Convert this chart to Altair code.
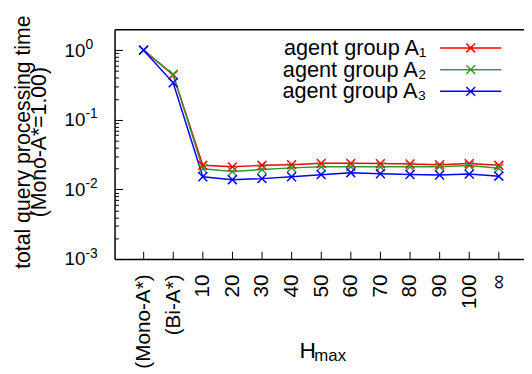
import altair as alt
import pandas as pd

x_labels = ["(Mono-A*)", "(Bi-A*)", "10", "20", "30", "40", "50", "60", "70", "80", "90", "100", "∞"]
series_names = ["agent group A₁", "agent group A₂", "agent group A₃"]
a1 = [1.0, 0.44, 0.0222, 0.0211, 0.0222, 0.0227, 0.0237, 0.0237, 0.0235, 0.0232, 0.0227, 0.0235, 0.0222]
a2 = [1.0, 0.45, 0.0198, 0.0181, 0.0193, 0.0204, 0.0211, 0.0211, 0.0211, 0.0211, 0.0211, 0.0220, 0.0201]
a3 = [1.0, 0.34, 0.0152, 0.0138, 0.0143, 0.0152, 0.0163, 0.0174, 0.0168, 0.0164, 0.0161, 0.0166, 0.0155]
colors = ["#ff0000", "#339933", "#0000ff"]
y_major = [0.001, 0.01, 0.1, 1]
y_base_labels = ["10", "10", "10", "10"]
y_exp_labels = ["-3", "-2", "-1", "0"]
y_minor = [0.002, 0.003, 0.004, 0.005, 0.006, 0.007, 0.008, 0.009,
           0.02, 0.03, 0.04, 0.05, 0.06, 0.07, 0.08, 0.09,
           0.2, 0.3, 0.4, 0.5, 0.6, 0.7, 0.8, 0.9]
x_ticks = list(range(len(x_labels)))
y_title = ["total query processing time", "(Mono-A*=1.00)"]
x_title_main = "H"
x_title_sub = "max"

rows = []
for name, vals in zip(series_names, [a1, a2, a3]):
    for i, v in enumerate(vals):
        rows.append({"idx": i, "series": name, "value": v})
df = pd.DataFrame(rows)

FONT = "Liberation Sans"
cross = "M-1,-1L1,1M-1,1L1,-1"
legend_sym = "M-3.1,0L3.1,0M-0.45,-0.45L0.45,0.45M-0.45,0.45L0.45,-0.45"

x_scale = alt.Scale(domain=[-0.98, 12.85], nice=False, zero=False)
y_scale = alt.Scale(type="log", domain=[0.001, 2], nice=False)


def arr_expr(items, index_expr):
    return "[" + ",".join("'" + s + "'" for s in items) + "][" + index_expr + "]"


x_label_expr = arr_expr(x_labels, "round(datum.value)")
y_base_expr = arr_expr(y_base_labels, "round(log(datum.value)/LN10)+3")
y_exp_expr = arr_expr(y_exp_labels, "round(log(datum.value)/LN10)+3")

base = alt.Chart(df)

lines = base.mark_line(
    strokeWidth=1.5,
    point=alt.OverlayMarkDef(shape=cross, size=81, filled=False, strokeWidth=1.5),
).encode(
    x=alt.X("idx:Q", scale=x_scale, axis=alt.Axis(
        values=x_ticks, labelExpr=x_label_expr, labelAngle=270, ticks=False,
        domain=True, grid=False, title=x_title_main, orient="bottom",
        labelPadding=15, labelFontSize=21,
        titleFontSize=23, titleAlign="left", titleBaseline="alphabetic",
        titleX=187, titleY=100)),
    y=alt.Y("value:Q", scale=y_scale, axis=alt.Axis(
        values=y_major, labelExpr=y_base_expr, ticks=False, domain=True, grid=False,
        title=y_title, orient="left", labelBaseline="middle",
        labelPadding=30, labelFontSize=19, titleFontSize=21.5,
        titleLineHeight=17, titleBaseline="alphabetic", titleAlign="center",
        titleX=-86.5, titleY=114)),
    color=alt.Color("series:N", scale=alt.Scale(domain=series_names, range=colors),
                    legend=alt.Legend(
                        title=None, orient="none", legendX=350, legendY=8,
                        symbolType=legend_sym, symbolSize=400, symbolStrokeWidth=1.5,
                        labelAlign="right", labelOffset={"expr": "-56"}, labelFontSize=22,
                        labelFont=FONT, labelColor="black", padding=0,
                        rowPadding={"expr": "-1"})),
)

ticks_major = base.mark_point(opacity=0).encode(
    x=alt.X("idx:Q", scale=x_scale, axis=alt.Axis(
        values=x_ticks, labels=False, domain=False, ticks=True, tickSize=8, offset={"expr": "-8"},
        title=None, grid=False, orient="bottom")),
    y=alt.Y("value:Q", scale=y_scale, axis=alt.Axis(
        values=y_major, labels=False, domain=False, ticks=True, tickSize=8, offset={"expr": "-8"},
        title=None, grid=False, orient="left")),
)

ticks_minor = base.mark_point(opacity=0).encode(
    x=alt.X("idx:Q", scale=x_scale, axis=alt.Axis(
        labels=False, domain=True, ticks=False, title=None, grid=False, orient="top")),
    y=alt.Y("value:Q", scale=y_scale, axis=alt.Axis(
        values=y_minor, labels=False, domain=False, ticks=True, tickSize=4, offset={"expr": "-4"},
        title=None, grid=False, orient="left")),
)

superscripts = base.mark_point(opacity=0).encode(
    x=alt.X("idx:Q", scale=x_scale, axis=alt.Axis(
        labels=False, domain=False, ticks=False, grid=False, orient="bottom",
        title=x_title_sub, titleFontSize=17, titleAlign="left", titleBaseline="alphabetic",
        titleX=202, titleY=103)),
    y=alt.Y("value:Q", scale=y_scale, axis=alt.Axis(
        values=y_major, labelExpr=y_exp_expr, ticks=False, domain=False, grid=False,
        title=None, orient="left", labelAlign="left", labelBaseline="alphabetic",
        labelOffset={"expr": "-2"}, labelPadding=30, labelFontSize=14)),
)

chart = alt.layer(lines, ticks_major, ticks_minor, superscripts).resolve_axis(
    x="independent", y="independent"
).properties(
    width=415, height=233,
    autosize=alt.AutoSizeParams(type="none"),
    padding={"left": 108, "top": 19, "right": 0, "bottom": 114},
).configure_view(stroke=None).configure_axis(
    labelFont=FONT, titleFont=FONT, labelColor="black", titleColor="black",
    domainColor="black", tickColor="black", domainWidth=1.5, tickWidth=1,
    titleFontWeight="normal", labelFlush=False, labelOverlap=False,
).configure_text(font=FONT)

chart.save("out.html", embed_options={"renderer": "svg", "actions": False})
